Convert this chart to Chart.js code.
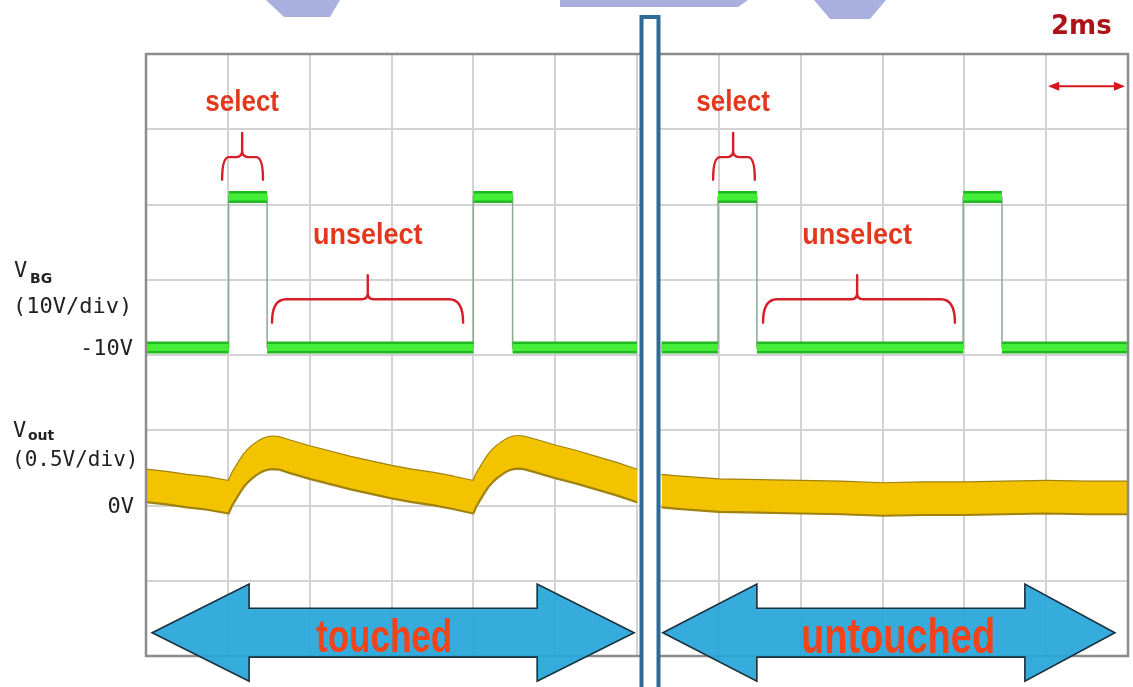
<!DOCTYPE html>
<html>
<head>
<meta charset="utf-8">
<script src="https://cdn.jsdelivr.net/npm/chart.js@4.4.1/dist/chart.umd.min.js"></script>
<style>
  html, body { margin: 0; padding: 0; background: #ffffff; overflow: hidden; }
  canvas { display: block; }
</style>
</head>
<body>
<canvas id="scope" width="1133" height="687"></canvas>
<script>
// Two 12 ms oscilloscope captures (2 ms/div) placed side by side:
// the first with the pixel touched, the second untouched.
const panelLabels = ['touched', 'untouched'];
const panelSpanMs = 12;

// Back-gate drive V_BG (volts), corners of the step waveform, time in ms within each capture
const vbgTouchedT   = [0, 2.02, 2.02, 2.96, 2.96, 8.0, 8.0, 8.96, 8.96, 12];
const vbgTouchedV   = [-10, -10, 10, 10, -10, -10, 10, 10, -10, -10];
const vbgUntouchedT = [0.6, 1.98, 1.98, 2.93, 2.93, 7.97, 7.97, 8.92, 8.92, 12];
const vbgUntouchedV = [-10, -10, 10, 10, -10, -10, 10, 10, -10, -10];

// Sensor output V_out (volts), centre of the noise band
const voutTouchedT = [
  0, 0.5, 1.0, 1.5, 2.02,
  2.1, 2.2, 2.3, 2.4, 2.5, 2.6, 2.7, 2.8, 2.9, 3.0, 3.1, 3.25,
  3.5, 4.0, 4.5, 5.0, 5.5, 6.0, 6.5, 7.0, 7.5, 8.0,
  8.08, 8.18, 8.28, 8.38, 8.48, 8.58, 8.68, 8.78, 8.88, 8.98, 9.08, 9.23,
  9.5, 10.0, 10.5, 11.0, 11.5, 12.0
];
const voutTouchedV = [
  0.13, 0.115, 0.095, 0.08, 0.055,
  0.105, 0.15, 0.195, 0.235, 0.265, 0.29, 0.31, 0.328, 0.34, 0.347, 0.35, 0.347,
  0.325, 0.285, 0.25, 0.215, 0.185, 0.155, 0.13, 0.11, 0.085, 0.055,
  0.105, 0.15, 0.195, 0.235, 0.265, 0.29, 0.31, 0.328, 0.342, 0.35, 0.353, 0.35,
  0.33, 0.29, 0.255, 0.215, 0.175, 0.13
];
const voutUntouchedT = [0.6, 1, 2, 3, 4, 5, 6, 7, 8, 9, 10, 11, 12];
const voutUntouchedV = [0.095, 0.085, 0.065, 0.06, 0.055, 0.05, 0.04, 0.045, 0.045, 0.05, 0.055, 0.05, 0.05];

// Vertical scales of the two channels, and the drawn height of the V_out noise band
const vbgVoltsPerDiv = 10;
const voutVoltsPerDiv = 0.5;
const voutNoiseHalf = 0.108;

// Join both captures on one time axis, leaving a break between them
function joinPanels(tA, vA, tB, vB, dv) {
  const off = dv || 0;
  const pts = tA.map((t, i) => ({ x: t, y: vA[i] + off }));
  pts.push({ x: panelSpanMs, y: null });
  tB.forEach((t, i) => pts.push({ x: t + panelSpanMs, y: vB[i] + off }));
  return pts;
}
// Same path with the fast edges removed (flat levels only)
function levelsOnly(pts) {
  const out = [];
  pts.forEach((p, i) => {
    if (i > 0 && p.y !== null && pts[i - 1].y !== null && pts[i - 1].x === p.x) out.push({ x: p.x, y: null });
    out.push(p);
  });
  return out;
}

const vbgPath = joinPanels(vbgTouchedT, vbgTouchedV, vbgUntouchedT, vbgUntouchedV);
const vbgLevels = levelsOnly(vbgPath);
const voutUpper = joinPanels(voutTouchedT, voutTouchedV, voutUntouchedT, voutUntouchedV, voutNoiseHalf);
const voutLower = joinPanels(voutTouchedT, voutTouchedV, voutUntouchedT, voutUntouchedV, -voutNoiseHalf);

const gridColor = '#d3d3d3';
const redText = '#e3381c';
const braceRed = '#d61d28';

// Annotation geometry: x in ms on the shared time axis, y in screen divisions (0..8)
const selectMarks = [
  { x1: 1.86, x2: 2.86, xm: 2.35 },
  { x1: 13.86, x2: 14.88, xm: 14.35 }
];
const unselectMarks = [
  { x1: 3.08, x2: 7.75, xm: 5.42 },
  { x1: 15.08, x2: 19.77, xm: 17.38 }
];
const panelArrows = [
  { tipL: 0.15, backL: 2.52, backR: 9.56, tipR: 11.93, textX: 5.82, size: 35 },
  { tipL: 12.63, backL: 14.93, backR: 21.48, tipR: 23.68, textX: 18.38, size: 38 }
];

function brace(ctx, x1, x2, xm, yLeg, yBar, yTip, r) {
  const r2 = Math.min(6, (yBar - yTip) * 0.4);
  ctx.beginPath();
  ctx.moveTo(x1, yLeg);
  ctx.quadraticCurveTo(x1, yBar, x1 + r, yBar);
  ctx.lineTo(xm - r2, yBar);
  ctx.quadraticCurveTo(xm, yBar, xm, yBar - r2);
  ctx.lineTo(xm, yTip);
  ctx.moveTo(xm, yBar - r2);
  ctx.quadraticCurveTo(xm, yBar, xm + r2, yBar);
  ctx.lineTo(x2 - r, yBar);
  ctx.quadraticCurveTo(x2, yBar, x2, yLeg);
  ctx.stroke();
}

function stretchedText(ctx, str, cx, cy, font, color, sy) {
  ctx.save();
  ctx.translate(cx, cy);
  ctx.scale(1, sy);
  ctx.font = font;
  ctx.fillStyle = color;
  ctx.textAlign = 'center';
  ctx.textBaseline = 'middle';
  ctx.fillText(str, 0, 0);
  ctx.restore();
}

const scopeDecor = {
  id: 'scopeDecor',
  afterDatasetsDraw(chart) {
    const { ctx, chartArea: ca, scales } = chart;
    const px = t => scales.x.getPixelForValue(t);
    const py = d => scales.yDiv.getPixelForValue(d);
    ctx.save();

    // watermark remnants along the top edge
    ctx.fillStyle = '#a9b0e0';
    [
      [[266, 0], [340, 0], [330, 17], [284, 17]],
      [[560, 0], [748, 0], [738, 7], [560, 7]],
      [[814, 0], [886, 0], [870, 19], [830, 19]]
    ].forEach(poly => {
      ctx.beginPath();
      poly.forEach(([a, b], i) => (i ? ctx.lineTo(a, b) : ctx.moveTo(a, b)));
      ctx.closePath();
      ctx.fill();
    });

    // screen frame
    ctx.strokeStyle = '#8c8c8c';
    ctx.lineWidth = 2.5;
    ctx.strokeRect(ca.left, ca.top, ca.width, ca.height);

    // big double arrows marking each capture
    panelArrows.forEach((a, i) => {
      const c = 0.31, sh = 0.325, hd = 0.645;
      const pts = [
        [a.tipL, c], [a.backL, c + hd], [a.backL, c + sh], [a.backR, c + sh], [a.backR, c + hd],
        [a.tipR, c], [a.backR, c - hd], [a.backR, c - sh], [a.backL, c - sh], [a.backL, c - hd]
      ];
      ctx.beginPath();
      pts.forEach(([t, d], k) => (k ? ctx.lineTo(px(t), py(d)) : ctx.moveTo(px(t), py(d))));
      ctx.closePath();
      ctx.fillStyle = 'rgba(38,166,216,0.93)';
      ctx.fill();
      ctx.strokeStyle = '#1b2f3d';
      ctx.lineWidth = 1.6;
      ctx.stroke();
      stretchedText(ctx, panelLabels[i], px(a.textX), py(0.22),
        'bold ' + a.size + 'px "Liberation Sans", Arial, sans-serif', '#f2431b', 1.3);
    });

    // separator between the two captures
    const sepX = px(panelSpanMs) + 13;
    ctx.fillStyle = '#ffffff';
    ctx.fillRect(sepX - 9, 16, 18, chart.height);
    ctx.strokeStyle = '#2c6b95';
    ctx.lineWidth = 4;
    ctx.strokeRect(sepX - 8.5, 17, 17, chart.height + 10);

    // select / unselect braces and labels
    ctx.strokeStyle = braceRed;
    ctx.lineWidth = 2.4;
    ctx.lineCap = 'round';
    selectMarks.forEach(m => {
      brace(ctx, px(m.x1), px(m.x2), px(m.xm), py(6.33), py(6.63), py(6.95), 7);
      stretchedText(ctx, 'select', px(m.xm), py(7.35), 'bold 26px "Liberation Sans", Arial, sans-serif', redText, 1.1);
    });
    unselectMarks.forEach(m => {
      brace(ctx, px(m.x1), px(m.x2), px(m.xm), py(4.43), py(4.74), py(5.06), 14);
      stretchedText(ctx, 'unselect', px(m.xm), py(5.58), 'bold 27px "Liberation Sans", Arial, sans-serif', redText, 1.1);
    });

    // time-base marker: one division = 2 ms
    const ay = py(7.57), ax1 = px(22) + 2, ax2 = px(24) - 3;
    ctx.strokeStyle = '#d5141c';
    ctx.fillStyle = '#d5141c';
    ctx.lineWidth = 2;
    ctx.beginPath(); ctx.moveTo(ax1 + 6, ay); ctx.lineTo(ax2 - 6, ay); ctx.stroke();
    ctx.beginPath(); ctx.moveTo(ax1, ay); ctx.lineTo(ax1 + 11, ay - 4.5); ctx.lineTo(ax1 + 11, ay + 4.5); ctx.closePath(); ctx.fill();
    ctx.beginPath(); ctx.moveTo(ax2, ay); ctx.lineTo(ax2 - 11, ay - 4.5); ctx.lineTo(ax2 - 11, ay + 4.5); ctx.closePath(); ctx.fill();
    ctx.font = 'bold 26px "DejaVu Sans", sans-serif';
    ctx.fillStyle = '#ad1218';
    ctx.textAlign = 'center';
    ctx.textBaseline = 'middle';
    ctx.fillText('2ms', px(22.86), py(8.35));

    // channel labels on the left
    const sub = 'bold 14px "DejaVu Sans", sans-serif';
    ctx.fillStyle = '#222222';
    ctx.textBaseline = 'alphabetic';
    ctx.textAlign = 'left';
    ctx.font = '22px "DejaVu Sans Mono", monospace';
    ctx.fillText('V', ca.left - 132, py(5.04));
    ctx.fillText('V', ca.left - 133, py(2.91));
    ctx.font = sub;
    ctx.fillText('BG', ca.left - 116, py(5.04) + 6);
    ctx.fillText('out', ca.left - 118, py(2.91) + 3);
    ctx.textBaseline = 'middle';
    ctx.font = '22px "DejaVu Sans Mono", monospace';
    ctx.fillText('(' + vbgVoltsPerDiv + 'V/div)', ca.left - 133, py(4.64));
    ctx.font = '21px "DejaVu Sans Mono", monospace';
    ctx.fillText('(' + voutVoltsPerDiv + 'V/div)', ca.left - 134, py(2.6));
    ctx.font = '22px "DejaVu Sans Mono", monospace';
    ctx.textAlign = 'right';
    ctx.fillText('-10V', ca.left - 13, scales.yV.getPixelForValue(-10) + 2);
    ctx.fillText('0V', ca.left - 12, scales.yO.getPixelForValue(0) + 2);

    ctx.restore();
  }
};

new Chart(document.getElementById('scope'), {
  type: 'line',
  data: {
    datasets: [
      { label: 'V_BG edges', data: vbgPath, yAxisID: 'yV', borderColor: '#8da992', borderWidth: 1.5, pointRadius: 0, tension: 0, order: 3 },
      { label: 'V_BG band', data: vbgLevels, yAxisID: 'yV', borderColor: '#22b822', borderWidth: 12, pointRadius: 0, tension: 0, order: 2 },
      { label: 'V_BG core', data: vbgLevels, yAxisID: 'yV', borderColor: '#44ee38', borderWidth: 7, pointRadius: 0, tension: 0, order: 1 },
      { label: 'V_out upper', data: voutUpper, yAxisID: 'yO', borderColor: '#9f820f', borderWidth: 2.2, pointRadius: 0, tension: 0, borderJoinStyle: 'round', fill: false, order: 5 },
      { label: 'V_out lower', data: voutLower, yAxisID: 'yO', borderColor: '#9f820f', borderWidth: 2.2, pointRadius: 0, tension: 0, borderJoinStyle: 'round', fill: '-1', backgroundColor: '#f4c300', order: 4 }
    ]
  },
  options: {
    responsive: false,
    animation: false,
    devicePixelRatio: 1,
    spanGaps: false,
    layout: { autoPadding: false, padding: { left: 146, right: 5, top: 54, bottom: 31 } },
    plugins: { legend: { display: false }, tooltip: { enabled: false }, filler: { propagate: false } },
    scales: {
      x: {
        type: 'linear', min: 0, max: 2 * panelSpanMs,
        ticks: { display: false, stepSize: 2 },
        grid: { color: gridColor, lineWidth: 2, drawTicks: false },
        border: { display: false }
      },
      yO: {
        type: 'linear', position: 'left', min: -2 * voutVoltsPerDiv, max: 6 * voutVoltsPerDiv,
        ticks: { display: false, stepSize: voutVoltsPerDiv },
        grid: { color: gridColor, lineWidth: 2, drawTicks: false },
        border: { display: false }
      },
      yV: { type: 'linear', display: false, min: -5.1 * vbgVoltsPerDiv, max: 2.9 * vbgVoltsPerDiv },
      yDiv: { type: 'linear', display: false, min: 0, max: 8 }
    }
  },
  plugins: [scopeDecor]
});
</script>
</body>
</html>
